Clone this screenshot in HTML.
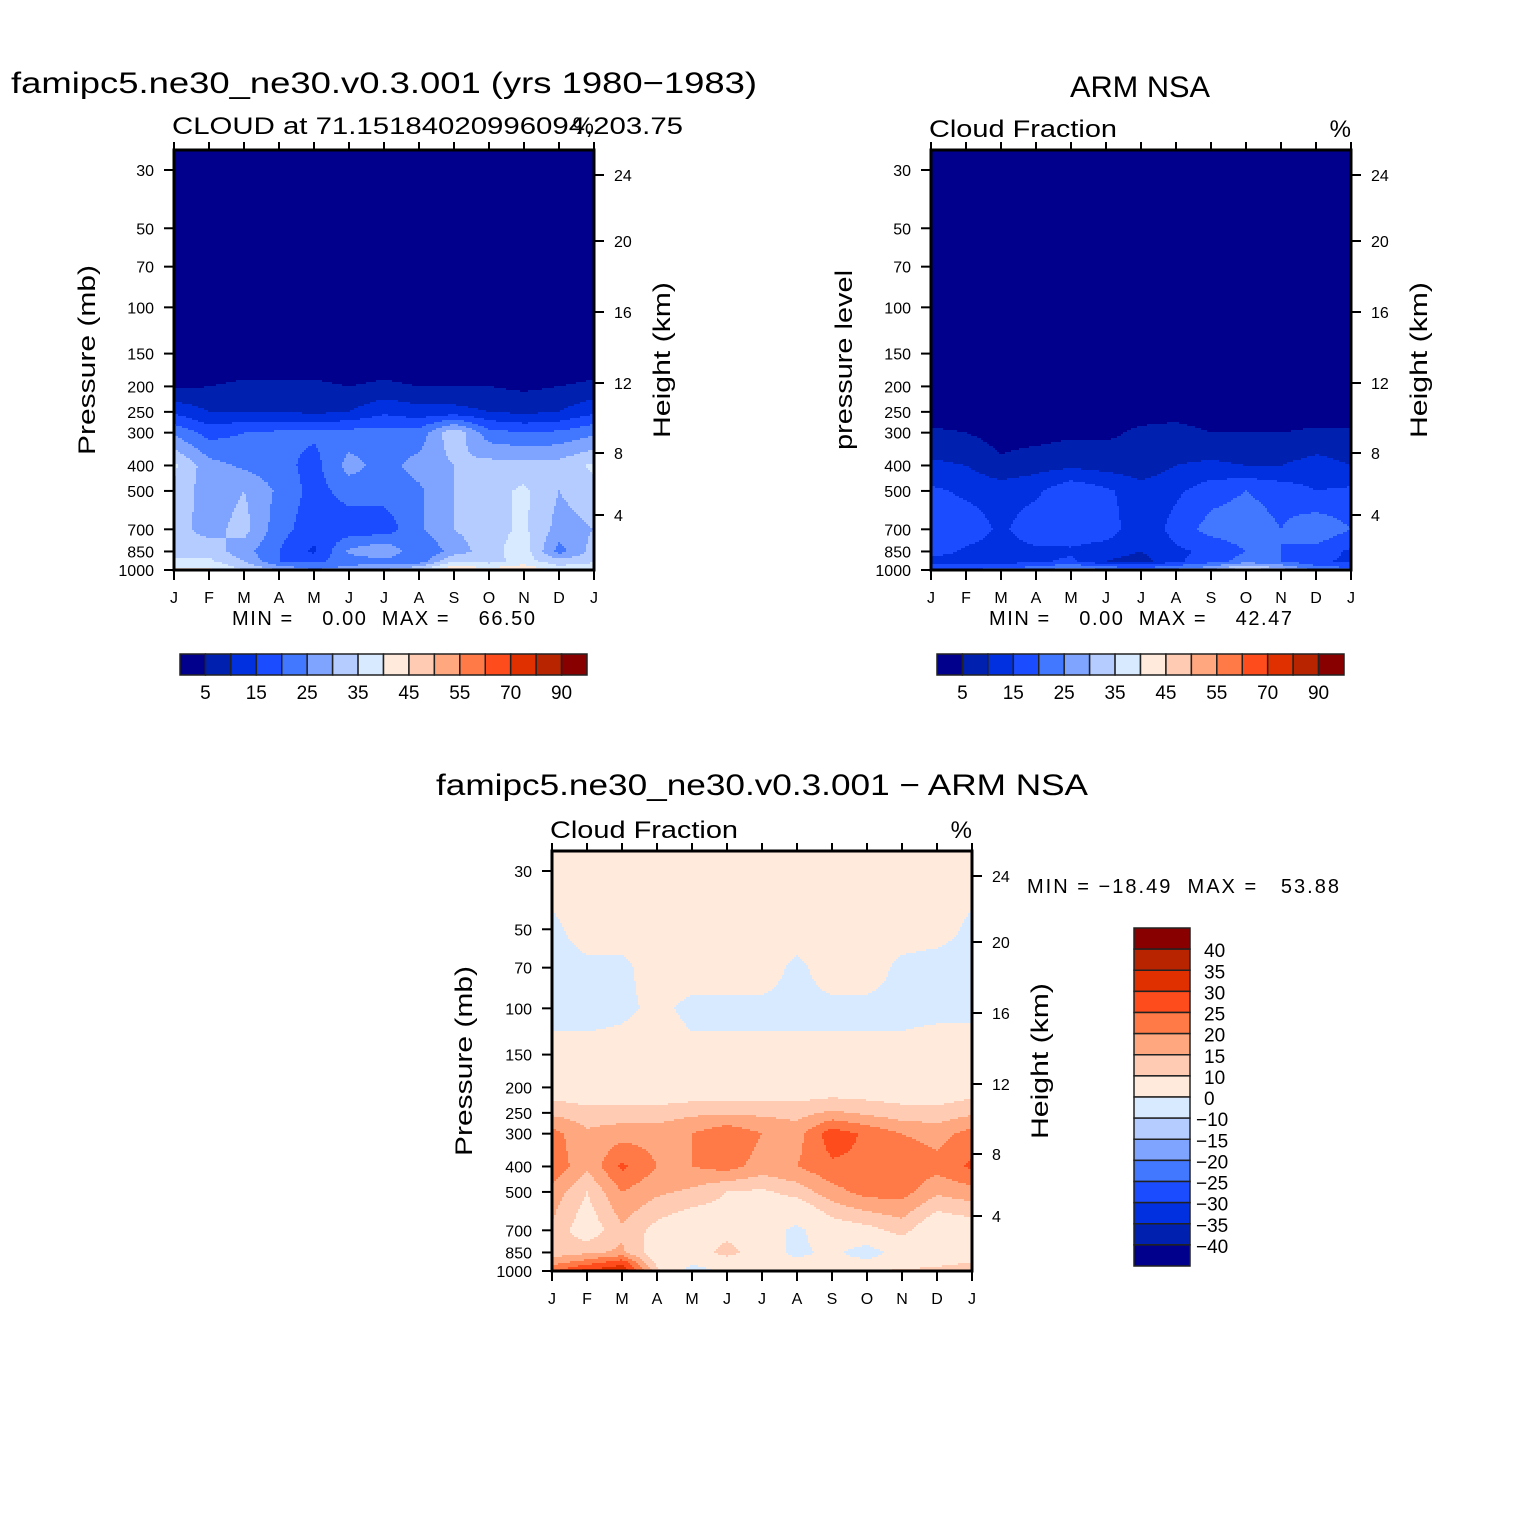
<!DOCTYPE html>
<html><head><meta charset="utf-8"><style>
html,body{margin:0;padding:0;background:#fff;}
svg{display:block;font-family:"Liberation Sans",sans-serif;}
</style></head><body>
<svg id="chart" xmlns="http://www.w3.org/2000/svg" width="1524" height="1524" viewBox="0 0 1524 1524"></svg>
<script>
const months = ["J","F","M","A","M","J","J","A","S","O","N","D","J"];
const pressureLevels = [30,50,70,100,150,200,250,300,400,500,700,850,925,1000];
const pressureTicks = [30,50,70,100,150,200,250,300,400,500,700,850,1000];
const heightTicks = [24,20,16,12,8,4];
const heightTickOffsets = [25,91,162,233,303,365];
const absLevels = [5,10,15,20,25,30,35,40,45,50,55,60,70,80,90];
const absLabels = ["5","15","25","35","45","55","70","90"];
const diffLevels = [-40,-35,-30,-25,-20,-15,-10,0,10,15,20,25,30,35,40];
const diffLabels = ["40","35","30","25","20","15","10","0","−10","−15","−20","−25","−30","−35","−40"];
const palette = ["#00008c","#0020b0","#0030e0","#1c4cff","#4278ff","#7ea4ff","#b4ccff","#d8eaff","#ffeadb","#ffcbb2","#ffa880","#ff7a46","#ff4c1c","#e03000","#b82400","#880000"];
// model cloud fraction (rows = pressureLevels, cols = months)
const modelCloud = [
[0,0,0,0,0,0,0,0,0,0,0,0,0],
[0,0,0,0,0,0,0,0,0,0,0,0,0],
[0,0,0,0,0,0,0,0,0,0,0,0,0],
[0,0,0,0,0,0,0,0,0,0,0,0,0],
[1,1,1,1,1,1,1,1,1,1,1,1,1],
[4,5,6,6,6,5,6,5,5,5,4,5,6],
[14,10,10,10,9,10,14,12,12,10,9,10,14],
[24,18,20,21,21,22,22,22,34,22,20,21,24],
[36,27,24,22,18,27,23,27,30,32,32,32,36],
[34,27,30,24,18,22,22,24,30,33,36,30,33],
[32,28,32,22,17,17,17,24,30,33,36,28,30],
[33,33,27,20,14,26,30,20,27,33,38,23,32],
[36,36,30,20,19,22,23,22,35,33,37,32,34],
[42,41,35,30,25,28,30,35,45,42,45,38,40]];
// ARM NSA observed cloud fraction
const obsCloud = [
[0,0,0,0,0,0,0,0,0,0,0,0,0],
[0,0,0,0,0,0,0,0,0,0,0,0,0],
[0,0,0,0,0,0,0,0,0,0,0,0,0],
[0,0,0,0,0,0,0,0,0,0,0,0,0],
[0,0,0,0,0,0,0,0,0,0,0,0,0],
[1,1,1,1,1,1,1,1,1,1,1,1,1],
[2,2,2,2,2,2,3,3,2,2,2,2,2],
[6,5,3,3,4,4,6,7,5,5,5,6,6],
[11,10,6,8,9,8,7,10,11,10,10,12,10],
[16,14,13,14,19,16,12,14,18,20,18,15,16],
[20,18,14,18,19,18,11,17,22,23,20,24,20],
[18,14,13,14,14,12,10,14,16,20,20,18,14],
[12,12,12,14,16,10,8,14,18,22,20,16,14],
[20,20,22,24,28,26,24,26,30,40,32,24,22]];
// model minus obs
const diffCloud = [
[2,2,2,2,2,2,2,2,2,2,2,2,2],
[-1,2,2,2,2,2,2,2,2,2,2,2,-1],
[-2,-1,-1,2,2,2,2,-1,2,2,-1,-2,-2],
[-2,-2,-1,1,-1,-1,-1,-1,-1,-1,-1,-1,-1],
[2,2,2,2,1,1,1,1,1,1,1,2,2],
[6,5,5,5,5,5,6,6,6,6,6,5,7],
[14,12,12,12,14,14,14,13,16,14,12,12,14],
[22,16,18,18,20,24,20,18,28,24,20,18,22],
[24,16,26,20,20,22,18,20,24,24,24,22,26],
[18,10,20,16,14,10,9,12,18,22,22,16,18],
[14,6,14,8,4,6,4,-2,6,8,12,4,6],
[12,14,16,6,4,14,4,-2,2,-4,4,2,8],
[18,22,28,8,2,4,2,2,2,2,4,8,10],
[24,32,34,12,-4,2,2,2,4,8,12,12,14]];

const NS="http://www.w3.org/2000/svg";
const svg=document.getElementById('chart');
function el(tag,attrs,parent){const e=document.createElementNS(NS,tag);for(const k in attrs)e.setAttribute(k,attrs[k]);(parent||svg).appendChild(e);return e;}
function txt(s,attrs,parent){const e=el('text',attrs,parent);e.textContent=s;return e;}
const L0=Math.log10(30),L1=Math.log10(1000);
function yOfP(oy,p){return oy+20+(Math.log10(p)-L0)/(L1-L0)*400;}
function pOfY(oy,y){return Math.pow(10,L0+(y-oy-20)/400*(L1-L0));}
function xOfM(ox,i){return ox+i*35;}
function sample(grid,mi,p){
  let lp=Math.log10(Math.max(30,Math.min(1000,p)));
  let r=0;while(r<pressureLevels.length-2&&Math.log10(pressureLevels[r+1])<lp)r++;
  const a=Math.log10(pressureLevels[r]),b=Math.log10(pressureLevels[r+1]);
  const t=Math.max(0,Math.min(1,(lp-a)/(b-a)));
  const c=Math.max(0,Math.min(11,Math.floor(mi)));const u=Math.max(0,Math.min(1,mi-c));
  const v0=grid[r][c]*(1-u)+grid[r][c+1]*u, v1=grid[r+1][c]*(1-u)+grid[r+1][c+1]*u;
  return v0*(1-t)+v1*t;
}
function bin(v,levels){let k=0;while(k<levels.length&&v>=levels[k])k++;return k;}

function panel(name,ox,oy,grid,levels,opts){
  const g=el('g',{},svg);
  
  
  const field=el('g',{},g);
  
  
  const step=2;
  for(let y=oy;y<oy+420;y+=step){
    const p=pOfY(oy,y+step/2);
    let runStart=ox,runK=-1;
    for(let x=ox;x<=ox+420;x+=step){
      let k=-2;
      if(x<ox+420){const mi=(x+step/2-ox)/35;k=bin(sample(grid,mi,p),levels);}
      if(k!==runK){
        if(runK>=0){const r=el('rect',{x:runStart,y:y,width:x-runStart+0.6,height:step+0.6,fill:palette[runK]},field);
          
          }
        runStart=x;runK=k;
      }
    }
  }
  el('rect',{x:ox,y:oy,width:420,height:420,fill:'none',stroke:'#000','stroke-width':3},g);
  pressureTicks.forEach(pv=>{const y=yOfP(oy,pv);
    el('line',{x1:ox-10,x2:ox,y1:y,y2:y,stroke:'#000','stroke-width':2},g);
    const t=txt(String(pv),{x:ox-20,y:y+6,'font-size':16,'text-anchor':'end'},g);
    
    });
  heightTicks.forEach((h,i)=>{const y=oy+heightTickOffsets[i];
    el('line',{x1:ox+420,x2:ox+430,y1:y,y2:y,stroke:'#000','stroke-width':2},g);
    const t=txt(String(h),{x:ox+440,y:y+6,'font-size':16},g);
    
    });
  months.forEach((m,i)=>{const x=xOfM(ox,i);
    el('line',{x1:x,x2:x,y1:oy+420,y2:oy+430,stroke:'#000','stroke-width':2},g);
    el('line',{x1:x,x2:x,y1:oy-8,y2:oy,stroke:'#000','stroke-width':2},g);
    const t=txt(m,{x:x,y:oy+453,'font-size':16,'text-anchor':'middle'},g);
    
    });
  const yl=txt(opts.ylabel,{x:0,y:0,'font-size':24,'text-anchor':'middle',textLength:opts.ylen,lengthAdjust:'spacingAndGlyphs',transform:`translate(${opts.ylx},${oy+210}) rotate(-90)`},g);
  
  
  const hl=txt('Height (km)',{x:0,y:0,'font-size':24,'text-anchor':'middle',textLength:156,lengthAdjust:'spacingAndGlyphs',transform:`translate(${ox+496},${oy+210}) rotate(-90)`},g);
  
  
}
function hColorbar(name,x0,y0,labels){
  const g=el('g',{},svg);
  
  
  const w=407/16;
  palette.forEach((c,i)=>{const r=el('rect',{x:x0+i*w,y:y0,width:w,height:21,fill:c,stroke:'#222','stroke-width':1.5},g);
    
    });
  labels.forEach((s,j)=>{const t=txt(s,{x:x0+(2*j+1)*w,y:y0+45,'font-size':19,'text-anchor':'middle'},g);
    
    });
}
function vColorbar(name,x0,y0,labels){
  const g=el('g',{},svg);
  
  
  const h=338/16;
  palette.slice().reverse().forEach((c,i)=>{const r=el('rect',{x:x0,y:y0+i*h,width:56,height:h,fill:c,stroke:'#222','stroke-width':1.5},g);
    
    });
  labels.forEach((s,j)=>{const t=txt(s,{x:x0+(s.startsWith('−')?62:70),y:y0+(j+1)*h+8,'font-size':19},g);
    
    });
}

panel('model-panel',174,150,modelCloud,absLevels,{ylabel:'Pressure (mb)',ylx:95,ylen:190});
panel('obs-panel',931,150,obsCloud,absLevels,{ylabel:'pressure level',ylx:852,ylen:180});
panel('diff-panel',552,851,diffCloud,diffLevels,{ylabel:'Pressure (mb)',ylx:472,ylen:190});
hColorbar('model-colorbar',180,654,absLabels);
hColorbar('obs-colorbar',937,654,absLabels);
vColorbar('diff-colorbar',1134,928,diffLabels);

function T(s,attrs,name){const t=txt(s,attrs);t.style.whiteSpace='pre';return t;}
T('famipc5.ne30_ne30.v0.3.001 (yrs 1980−1983)',{x:384,y:93,'font-size':30,'text-anchor':'middle',textLength:746,lengthAdjust:'spacingAndGlyphs'},'model-title');
T('CLOUD at 71.15184020996094,203.75',{x:172,y:134,'font-size':24,textLength:511,lengthAdjust:'spacingAndGlyphs'},'model-subtitle');
T('%',{x:594,y:134,'font-size':24,'text-anchor':'end'},'model-units');
T('ARM NSA',{x:1140,y:97,'font-size':30,'text-anchor':'middle',textLength:140,lengthAdjust:'spacingAndGlyphs'},'obs-title');
T('Cloud Fraction',{x:929,y:137,'font-size':24,textLength:188,lengthAdjust:'spacingAndGlyphs'},'obs-subtitle');
T('%',{x:1351,y:137,'font-size':24,'text-anchor':'end'},'obs-units');
T('famipc5.ne30_ne30.v0.3.001 − ARM NSA',{x:762,y:795,'font-size':30,'text-anchor':'middle',textLength:652,lengthAdjust:'spacingAndGlyphs'},'diff-title');
T('Cloud Fraction',{x:550,y:838,'font-size':24,textLength:188,lengthAdjust:'spacingAndGlyphs'},'diff-subtitle');
T('%',{x:972,y:838,'font-size':24,'text-anchor':'end'},'diff-units');
T('MIN =    0.00  MAX =    66.50',{x:232,y:625,'font-size':20,textLength:303,lengthAdjust:'spacing'},'model-min-max');
T('MIN =    0.00  MAX =    42.47',{x:989,y:625,'font-size':20,textLength:303,lengthAdjust:'spacing'},'obs-min-max');
T('MIN = −18.49  MAX =   53.88',{x:1027,y:893,'font-size':20,textLength:312,lengthAdjust:'spacing'},'diff-min-max');
</script>
</body></html>
